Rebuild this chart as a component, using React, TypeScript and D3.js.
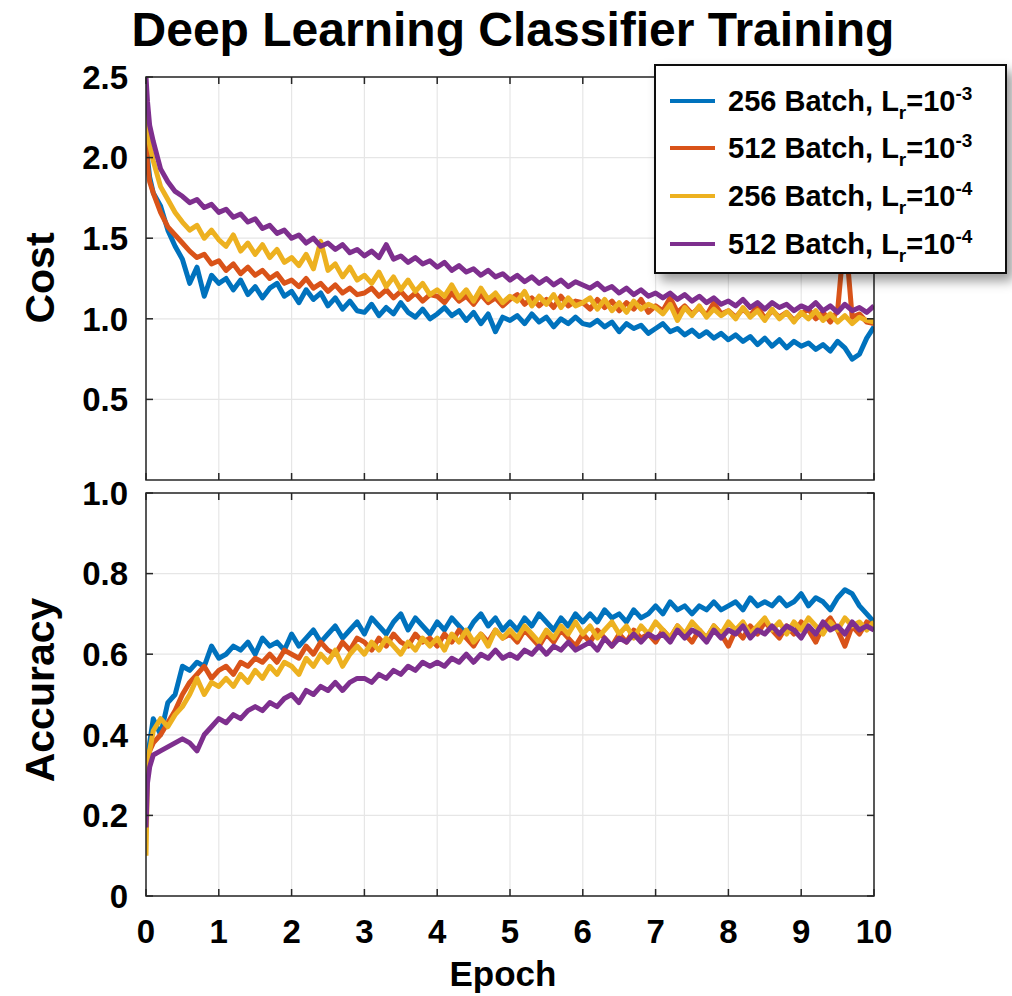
import * as d3 from "d3";

// epoch axis: a few extra samples at the very start, then every 0.1 epoch
const epochs = [0, 0.02, 0.05, ...d3.range(1, 101).map((i) => i / 10)];

const seriesNames = [
  { batch: "256 Batch, L", exp: "-3" },
  { batch: "512 Batch, L", exp: "-3" },
  { batch: "256 Batch, L", exp: "-4" },
  { batch: "512 Batch, L", exp: "-4" },
];
const colors = ["#0072BD", "#D95319", "#EDB120", "#7E2F8E"];

const cost256a = [
  2.38, 2.0, 1.88,
  1.78, 1.7, 1.55, 1.45, 1.37, 1.22, 1.32, 1.14, 1.27, 1.22,
  1.25, 1.18, 1.24, 1.15, 1.2, 1.13, 1.19, 1.22, 1.14, 1.17,
  1.1, 1.18, 1.12, 1.16, 1.08, 1.13, 1.06, 1.11, 1.05, 1.04,
  1.09, 1.02, 1.07, 1.03, 1.1, 1.04, 1.01, 1.06, 1.0, 1.03,
  1.07, 1.02, 1.05, 0.99, 1.04, 0.97, 1.03, 0.92, 1.01, 0.99,
  1.02, 0.97, 1.03, 0.98, 1.01, 0.95, 1.0, 0.97, 1.01, 0.97,
  0.96, 0.99, 0.95, 0.98, 0.92, 0.97, 0.94, 0.96, 0.91, 0.94,
  0.97, 0.92, 0.94, 0.9, 0.93, 0.89, 0.92, 0.88, 0.91, 0.87,
  0.9, 0.86, 0.89, 0.84, 0.88, 0.83, 0.87, 0.82, 0.86, 0.83,
  0.85, 0.81, 0.84, 0.8, 0.86, 0.82, 0.75, 0.78, 0.88, 0.95,
];
const cost512a = [
  2.26, 1.95, 1.85,
  1.78, 1.66, 1.57, 1.52, 1.47, 1.42, 1.38, 1.4, 1.34, 1.36,
  1.3, 1.34, 1.28, 1.32, 1.27, 1.3, 1.25, 1.28, 1.22, 1.24,
  1.2, 1.25, 1.19, 1.22, 1.17, 1.21, 1.16, 1.19, 1.15, 1.16,
  1.19, 1.14, 1.18, 1.13, 1.17, 1.12, 1.16, 1.11, 1.15, 1.14,
  1.1, 1.16, 1.11, 1.14, 1.09, 1.15, 1.1, 1.13, 1.08, 1.12,
  1.15, 1.09, 1.13, 1.08, 1.12, 1.07, 1.14, 1.08, 1.11, 1.1,
  1.06, 1.12, 1.07, 1.11, 1.05, 1.1, 1.06, 1.12, 1.04, 1.08,
  1.05, 1.13, 1.04, 1.08, 1.03, 1.07, 1.02, 1.1, 1.03, 1.05,
  1.01, 1.06, 1.02, 1.08, 1.0, 1.05, 1.01, 1.04, 0.99, 1.03,
  1.06, 1.0, 1.04, 0.98, 1.05, 1.55, 1.01, 1.03, 0.98, 0.97,
];
const cost256b = [
  2.45, 2.2, 2.08,
  1.98, 1.82, 1.74, 1.66, 1.6, 1.55, 1.58, 1.5, 1.55, 1.49,
  1.45, 1.52, 1.42, 1.47, 1.4, 1.46, 1.38, 1.43, 1.35, 1.38,
  1.33, 1.4, 1.31, 1.48, 1.3, 1.34, 1.26, 1.32, 1.24, 1.27,
  1.22, 1.29, 1.2, 1.26, 1.18, 1.24, 1.17, 1.22, 1.15, 1.18,
  1.14, 1.21, 1.13, 1.18, 1.11, 1.19, 1.12, 1.16, 1.1, 1.14,
  1.11, 1.17, 1.08, 1.14, 1.09, 1.15, 1.07, 1.13, 1.08, 1.1,
  1.13, 1.06, 1.12, 1.05, 1.1, 1.04, 1.11, 1.06, 1.09, 1.07,
  1.03, 1.09, 0.99, 1.07, 1.02, 1.08, 1.01, 1.06, 1.02, 1.05,
  1.0, 1.07, 1.01, 1.05, 0.99, 1.06, 1.0, 1.04, 0.98, 1.04,
  1.0, 1.05, 0.99, 1.03, 0.98, 1.02, 0.97, 1.01, 0.99, 0.98,
];
const cost512b = [
  2.5, 2.35, 2.2,
  2.1, 1.93, 1.85, 1.79, 1.76, 1.72, 1.74, 1.69, 1.71, 1.66,
  1.68, 1.63, 1.65, 1.6, 1.62, 1.56, 1.58, 1.53, 1.55, 1.5,
  1.52, 1.47, 1.5, 1.45, 1.47, 1.43, 1.46, 1.41, 1.43, 1.39,
  1.42, 1.38, 1.46, 1.37, 1.39, 1.35, 1.38, 1.34, 1.36, 1.32,
  1.35, 1.3, 1.33, 1.29, 1.31, 1.27, 1.3, 1.26, 1.28, 1.24,
  1.27, 1.23, 1.26, 1.22, 1.25, 1.21, 1.24, 1.2, 1.23, 1.21,
  1.19, 1.22, 1.18, 1.2, 1.16, 1.19, 1.15, 1.18, 1.14, 1.16,
  1.13, 1.16, 1.12, 1.15, 1.11, 1.14, 1.1, 1.13, 1.09, 1.11,
  1.08, 1.12, 1.07, 1.1, 1.06, 1.1, 1.07, 1.09, 1.05, 1.08,
  1.06, 1.1, 1.05, 1.08, 1.04, 1.09, 1.05, 1.07, 1.04, 1.08,
];

const acc256a = [
  0.2, 0.33, 0.38,
  0.44, 0.4, 0.48, 0.5, 0.57, 0.56, 0.58, 0.57, 0.62, 0.59,
  0.6, 0.62, 0.61, 0.63, 0.6, 0.64, 0.62, 0.63, 0.61, 0.65,
  0.62, 0.64, 0.66, 0.63, 0.65, 0.67, 0.64, 0.66, 0.68, 0.65,
  0.69, 0.67, 0.65, 0.68, 0.7, 0.66, 0.69, 0.67, 0.65, 0.68,
  0.66, 0.69, 0.67, 0.65, 0.68, 0.7, 0.67, 0.69, 0.66, 0.68,
  0.66, 0.69, 0.67, 0.7, 0.68, 0.66, 0.69, 0.67, 0.7, 0.68,
  0.7, 0.68, 0.71, 0.69, 0.7, 0.68, 0.71, 0.69, 0.7, 0.72,
  0.7, 0.73, 0.71, 0.72, 0.7, 0.72, 0.71, 0.73, 0.71, 0.72,
  0.73, 0.71, 0.74, 0.72, 0.73, 0.72, 0.74, 0.72, 0.73, 0.75,
  0.72, 0.74, 0.73, 0.71, 0.74, 0.76, 0.75, 0.72, 0.7, 0.68,
];
const acc512a = [
  0.28, 0.33, 0.36,
  0.38, 0.4, 0.43, 0.46, 0.5, 0.53, 0.55, 0.57, 0.54, 0.56,
  0.57, 0.55, 0.58, 0.57, 0.59, 0.58, 0.6, 0.58, 0.61, 0.6,
  0.59, 0.62, 0.6, 0.63, 0.61, 0.6, 0.63, 0.61, 0.64, 0.63,
  0.61, 0.64, 0.62, 0.65, 0.63, 0.62, 0.65, 0.63, 0.64, 0.62,
  0.65, 0.63, 0.66, 0.64, 0.62, 0.65, 0.63, 0.66, 0.64, 0.65,
  0.63, 0.66, 0.64, 0.62, 0.65, 0.63, 0.66, 0.64, 0.62, 0.65,
  0.63, 0.66, 0.64, 0.62, 0.65, 0.63, 0.66, 0.64, 0.65, 0.63,
  0.66, 0.64, 0.67, 0.65, 0.63, 0.66, 0.64, 0.67, 0.65, 0.62,
  0.66, 0.64, 0.67, 0.65, 0.68, 0.66, 0.64, 0.67, 0.65, 0.68,
  0.66, 0.63, 0.67, 0.69, 0.66, 0.62, 0.67, 0.65, 0.68, 0.67,
];
const acc256b = [
  0.1, 0.3, 0.36,
  0.41, 0.44, 0.42, 0.45, 0.47, 0.5, 0.54, 0.5, 0.53, 0.52,
  0.54, 0.52, 0.55, 0.53, 0.56, 0.54, 0.57, 0.55, 0.58, 0.57,
  0.55, 0.59, 0.57, 0.6, 0.58, 0.61, 0.57, 0.6, 0.62, 0.6,
  0.63, 0.61, 0.64, 0.62, 0.6, 0.63, 0.61, 0.64, 0.62, 0.64,
  0.61, 0.65, 0.63, 0.66, 0.63, 0.65, 0.62, 0.66, 0.64, 0.66,
  0.64, 0.67, 0.65, 0.63, 0.66, 0.64, 0.67, 0.65, 0.68, 0.65,
  0.67, 0.64, 0.66, 0.68, 0.65, 0.67, 0.64, 0.67, 0.65, 0.68,
  0.66, 0.64, 0.67, 0.65, 0.68, 0.66, 0.64, 0.67, 0.65, 0.68,
  0.66, 0.68, 0.65, 0.67, 0.69, 0.66, 0.68, 0.65, 0.68, 0.66,
  0.69, 0.67, 0.65, 0.68, 0.66, 0.69, 0.67, 0.68, 0.66, 0.68,
];
const acc512b = [
  0.17, 0.28, 0.32,
  0.35, 0.36, 0.37, 0.38, 0.39, 0.38, 0.36, 0.4, 0.42, 0.44,
  0.43, 0.45, 0.44, 0.46, 0.47, 0.46, 0.48, 0.47, 0.49, 0.5,
  0.48, 0.51, 0.5, 0.52, 0.51, 0.53, 0.51, 0.53, 0.54, 0.54,
  0.53, 0.55, 0.54, 0.56, 0.55, 0.57, 0.56, 0.58, 0.57, 0.58,
  0.57, 0.59, 0.58, 0.6, 0.58, 0.6, 0.59, 0.61, 0.59, 0.6,
  0.59, 0.61, 0.6, 0.62, 0.6, 0.62, 0.61, 0.63, 0.61, 0.62,
  0.63, 0.61, 0.64, 0.62, 0.64, 0.63, 0.65, 0.63, 0.65, 0.64,
  0.65, 0.63, 0.66, 0.64, 0.66, 0.65, 0.63, 0.66, 0.64, 0.66,
  0.65, 0.67, 0.64, 0.66, 0.65, 0.67, 0.65, 0.67, 0.66, 0.64,
  0.67, 0.65, 0.68, 0.66, 0.67, 0.65, 0.68, 0.66, 0.67, 0.66,
];

const costSeries = [cost256a, cost512a, cost256b, cost512b];
const accSeries = [acc256a, acc512a, acc256b, acc512b];

const xTicks = d3.range(0, 11);
const costTicks = [0.5, 1, 1.5, 2, 2.5];
const costTickLabels = ["0.5", "1.0", "1.5", "2.0", "2.5"];
const accTicks = [0, 0.2, 0.4, 0.6, 0.8, 1];
const accTickLabels = ["0", "0.2", "0.4", "0.6", "0.8", "1.0"];

const W = 1012;
const H = 996;
const left = 146;
const right = 874;
const font = "'Liberation Sans', Arial, sans-serif";

const x = d3.scaleLinear().domain([0, 10]).range([left, right]);
const yCost = d3.scaleLinear().domain([0, 2.5]).range([480, 77]);
const yAcc = d3.scaleLinear().domain([0, 1]).range([896, 493]);

function Panel({ id, y, series, ticks, labels, title, titleY }) {
  const [y0, y1] = y.range();
  const line = d3
    .line<number>()
    .x((_, i) => x(epochs[i]))
    .y((v) => y(v));
  return (
    <g>
      <clipPath id={id}>
        <rect x={left} y={y1} width={right - left} height={y0 - y1} />
      </clipPath>
      {xTicks.map((t) => (
        <line key={"gx" + t} x1={x(t)} x2={x(t)} y1={y0} y2={y1} stroke="#e6e6e6" strokeWidth={1.2} />
      ))}
      {ticks.map((t) => (
        <line key={"gy" + t} x1={left} x2={right} y1={y(t)} y2={y(t)} stroke="#e6e6e6" strokeWidth={1.2} />
      ))}
      <g clipPath={`url(#${id})`}>
        {series.map((s, i) => (
          <path key={i} d={line(s)} fill="none" stroke={colors[i]} strokeWidth={5} strokeLinejoin="round" />
        ))}
      </g>
      <rect x={left} y={y1} width={right - left} height={y0 - y1} fill="none" stroke="#262626" strokeWidth={1.5} />
      {xTicks.map((t) => (
        <g key={"tx" + t} stroke="#262626" strokeWidth={1.5}>
          <line x1={x(t)} x2={x(t)} y1={y0} y2={y0 - 7} />
          <line x1={x(t)} x2={x(t)} y1={y1} y2={y1 + 7} />
        </g>
      ))}
      {ticks.map((t) => (
        <g key={"ty" + t} stroke="#262626" strokeWidth={1.5}>
          <line x1={left} x2={left + 7} y1={y(t)} y2={y(t)} />
          <line x1={right} x2={right - 7} y1={y(t)} y2={y(t)} />
        </g>
      ))}
      {ticks.map((t, i) => (
        <text key={"ly" + t} x={128} y={y(t)} dy="0.36em" textAnchor="end" fontSize={33} fontWeight="bold" fontFamily={font}>
          {labels[i]}
        </text>
      ))}
      <text
        transform={`translate(54,${titleY}) rotate(-90)`}
        textAnchor="middle"
        fontSize={41}
        fontWeight="bold"
        fontFamily={font}
      >
        {title}
      </text>
    </g>
  );
}

function Legend() {
  const rows = [101, 148, 196, 244];
  return (
    <g>
      <defs>
        <filter id="shadow" x="-10%" y="-10%" width="130%" height="130%">
          <feDropShadow dx={6} dy={7} stdDeviation={6} floodColor="#000" floodOpacity={0.4} />
        </filter>
      </defs>
      <rect x={655} y={65} width={351} height={208} fill="#fff" stroke="#111" strokeWidth={2} filter="url(#shadow)" />
      {seriesNames.map((s, i) => (
        <g key={i}>
          <line x1={670} x2={715} y1={rows[i]} y2={rows[i]} stroke={colors[i]} strokeWidth={4} />
          <text x={728} y={rows[i]} dy="0.36em" fontSize={29} fontWeight="bold" fontFamily={font}>
            {s.batch}
            <tspan fontSize={19} dy={8}>r</tspan>
            <tspan fontSize={29} dy={-8}>=10</tspan>
            <tspan fontSize={19} dy={-11}>{s.exp}</tspan>
          </text>
        </g>
      ))}
    </g>
  );
}

export default function App() {
  return (
    <svg width={W} height={H} style={{ position: "absolute", left: 0, top: 0, background: "#fff" }}>
      <text x={513} y={46} textAnchor="middle" fontSize={48} fontWeight="bold" fontFamily={font}>
        Deep Learning Classifier Training
      </text>
      <Panel id="clipCost" y={yCost} series={costSeries} ticks={costTicks} labels={costTickLabels} title="Cost" titleY={278} />
      <Panel id="clipAcc" y={yAcc} series={accSeries} ticks={accTicks} labels={accTickLabels} title="Accuracy" titleY={690} />
      {xTicks.map((t) => (
        <text key={t} x={x(t)} y={943} textAnchor="middle" fontSize={33} fontWeight="bold" fontFamily={font}>
          {t}
        </text>
      ))}
      <text x={503} y={986} textAnchor="middle" fontSize={35} fontWeight="bold" fontFamily={font}>
        Epoch
      </text>
      <Legend />
    </svg>
  );
}
